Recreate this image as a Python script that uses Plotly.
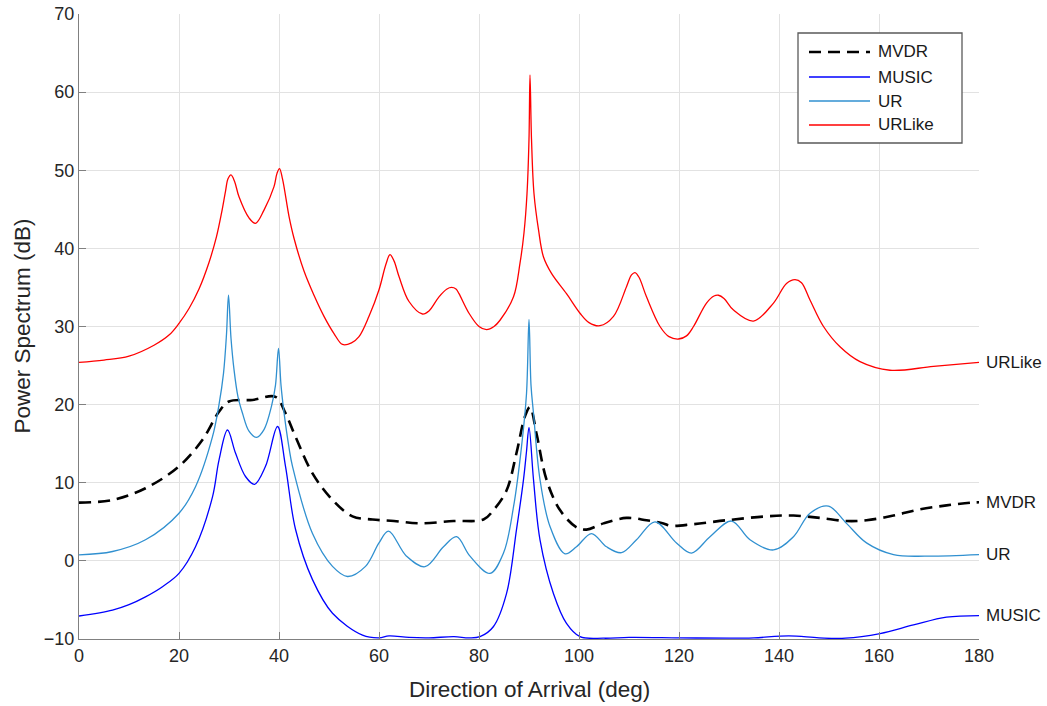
import plotly.graph_objects as go

# ---- spectra (direction in degrees, power in dB) ----
urlike_deg = [0, 5, 10, 15, 18, 20, 22, 24, 26, 27.5, 28.5, 29.3, 29.8, 30.4, 31.1, 32, 34, 35.3, 37,
              39, 39.6, 40.1, 40.7, 42, 43, 45, 47, 49, 51, 52.7, 54.5, 56, 58, 60, 61.4, 62.2, 63,
              64, 66, 68.7, 70, 72, 73.6, 74.5, 75.4, 76, 78, 80, 81.5, 83, 84.2, 86.9, 88.2, 89.0,
              89.6, 90.0, 90.2, 90.5, 91.0, 91.9, 92.9, 94.5, 97.5, 100.2, 102, 104.2, 106.9, 109.5,
              110.5, 111.2, 112, 113.5, 116.2, 118, 119.9, 121.5, 122.9, 125.5, 127, 127.9, 129,
              130.9, 134.9, 138.9, 141.5, 143.2, 144.5, 146.2, 148.9, 152.2, 156.2, 162.2, 170.9,
              180]
urlike_db = [25.4, 25.7, 26.2, 27.6, 28.9, 30.4, 32.3, 34.8, 38.2, 41.5, 44.5, 47.3, 48.9, 49.4, 48.6,
             46.6, 43.9, 43.2, 44.9, 47.9, 49.6, 50.2, 48.9, 44.1, 41.3, 37.1, 34.0, 31.3, 29.1,
             27.7, 27.9, 28.7, 31.3, 34.7, 38.0, 39.2, 38.4, 36.4, 33.2, 31.6, 32.0, 33.8, 34.8,
             35.0, 34.8, 34.2, 31.7, 30.0, 29.6, 30.0, 30.8, 33.8, 38.1, 42.0, 47.0, 54.0, 62.2, 54.0,
             47.0, 42.4, 38.9, 36.8, 34.2, 31.7, 30.5, 30.1, 31.3, 35.1, 36.6, 36.9, 36.3, 33.8,
             30.0, 28.7, 28.4, 28.8, 30.0, 33.0, 33.9, 34.0, 33.6, 32.1, 30.7, 33.0, 35.5, 36.0,
             35.6, 33.4, 30.0, 27.4, 25.5, 24.4, 24.9, 25.4]

mvdr_deg = [0, 6.7, 13.3, 20, 24.7, 28, 30, 34.7, 39.3, 41.3, 43.3, 46.7, 50.7, 54.7, 58.7, 63, 68.2,
            74.9, 80.9, 82.9, 85.5, 87.5, 89.2, 90.2, 91.5, 93.5, 96.2, 99.5, 101.5, 104.9, 109.5,
            113.5, 116.9, 118.2, 122.9, 129.5, 137.5, 142.9, 148.2, 153.5, 157.5, 162.9, 168.2,
            173.5, 178.2, 180]
mvdr_db = [7.45, 7.8, 9.3, 12.1, 15.5, 19.1, 20.4, 20.6, 21.0, 18.9, 15.9, 11.2, 7.8, 5.7, 5.3, 5.1,
           4.8, 5.1, 5.3, 6.5, 9.0, 13.8, 18.5, 19.7, 16.3, 10.4, 6.5, 4.3, 4.0, 4.8, 5.5, 5.2, 4.8,
           4.5, 4.7, 5.2, 5.7, 5.8, 5.5, 5.1, 5.2, 5.8, 6.6, 7.1, 7.45, 7.5]

ur_deg = [0, 6.7, 13.3, 20, 23.3, 26.7, 28.0, 28.9, 29.5, 29.9, 30.4, 31.0, 31.8, 32.7, 34, 35.5, 37,
          38.5, 39.3, 39.9, 40.4, 41.0, 42.0, 42.7, 46.7, 50.7, 53.7, 57.3, 60, 61.9, 65.5, 69.2,
          72.9, 75.5, 78.2, 82.2, 84.9, 86.9, 88.5, 89.5, 90.0, 90.4, 90.9, 92.2, 94.2, 97.2, 99.5,
          102.5, 105.5, 108.5, 111.5, 115.2, 119.5, 122.5, 126.2, 130.5, 134.2, 138.9, 142.9, 146.2,
          149.9, 153.5, 157.5, 162.9, 169.5, 180]
ur_db = [0.77, 1.2, 2.7, 6.1, 9.5, 15.9, 20.0, 24.0, 29.0, 34.0, 28.5, 24.5, 21.0, 18.9, 16.6, 15.8,
         16.8, 19.8, 22.5, 27.2, 22.5, 19.0, 14.5, 12.1, 3.5, -0.7, -2.0, -0.7, 2.3, 3.8, 0.6, -0.75,
         1.8, 3.1, 0.6, -1.6, 1.0, 6.9, 14.6, 21.4, 30.9, 22.5, 18.9, 10.4, 4.4, 0.9, 1.8, 3.5, 1.8,
         1.05, 2.7, 5.0, 2.3, 1.0, 3.1, 5.1, 2.7, 1.4, 3.1, 6.1, 7.0, 4.8, 2.3, 0.8, 0.6, 0.8]

music_deg = [0, 6.7, 10, 13.3, 16.7, 20, 23.3, 26.7, 28, 29.7, 31.3, 33.3, 35.1, 37.3, 39.7, 41.3,
             43.3, 46.7, 50.7, 56.7, 60, 62, 66, 70, 75, 78, 80.2, 82.9, 85.5, 87.5, 88.9, 89.5, 90.0,
             90.9, 92.2, 94.9, 97.5, 100.2, 105, 110, 120, 130, 135, 142, 148, 153.3, 160.2, 166.9,
             173.5, 180]
music_db = [-7.06, -6.3, -5.6, -4.6, -3.3, -1.6, 1.8, 8.2, 12.9, 16.75, 13.8, 10.8, 9.8, 12.1, 17.2,
            12.1, 4.05, -2.4, -6.7, -9.5, -9.85, -9.6, -9.8, -9.85, -9.7, -9.85, -9.7, -8.4, -4.2,
            4.0, 10.4, 14.0, 17.1, 10.4, 2.7, -4.2, -8.0, -9.7, -9.9, -9.8, -9.85, -9.9, -9.85, -9.6,
            -9.85, -9.9, -9.3, -8.2, -7.2, -7.0]

x_ticks = [0, 20, 40, 60, 80, 100, 120, 140, 160, 180]
y_ticks = [-10, 0, 10, 20, 30, 40, 50, 60, 70]

names = ["MVDR", "MUSIC", "UR", "URLike"]
colors = {"MVDR": "#000000", "MUSIC": "#0000ff", "UR": "#3090d0", "URLike": "#ff0000"}
series = {
    "MVDR": (mvdr_deg, mvdr_db),
    "MUSIC": (music_deg, music_db),
    "UR": (ur_deg, ur_db),
    "URLike": (urlike_deg, urlike_db),
}

FONT = "Liberation Sans, Arial, Helvetica, sans-serif"
W, H = 1047, 706
ML, MR, MT, MB = 79, 68, 14, 67
PW, PH = W - ML - MR, H - MT - MB


def px(xp):
    return (xp - ML) / PW


def py(yp):
    return (H - MB - yp) / PH


fig = go.Figure()
for name in names:
    xs, ys = series[name]
    dashed = name == "MVDR"
    fig.add_trace(go.Scatter(
        x=xs, y=ys, mode="lines", name=name, showlegend=False,
        line=dict(color=colors[name], width=2.6 if dashed else 1.3,
                  dash="12px,7px" if dashed else "solid",
                  shape="spline", smoothing=1.0),
    ))

# series labels at the right end of each curve
annotations = []
for name in names:
    xs, ys = series[name]
    annotations.append(dict(x=xs[-1], y=ys[-1], xref="x", yref="y", text=name,
                            showarrow=False, xanchor="left", yanchor="middle", xshift=5,
                            font=dict(family=FONT, size=17, color="#1a1a1a")))

# axis titles
annotations.append(dict(x=0.5, y=py(690), xref="paper", yref="paper",
                        text="Direction of Arrival (deg)", showarrow=False,
                        xanchor="center", yanchor="middle",
                        font=dict(family=FONT, size=22.5, color="#262626")))
annotations.append(dict(x=px(22), y=0.5, xref="paper", yref="paper",
                        text="Power Spectrum (dB)", showarrow=False, textangle=-90,
                        xanchor="center", yanchor="middle",
                        font=dict(family=FONT, size=22.5, color="#262626")))

# legend box
shapes = [dict(type="rect", xref="paper", yref="paper",
               x0=px(798), x1=px(962), y0=py(143), y1=py(33),
               line=dict(color="#5a5a5a", width=1.3), fillcolor="white", layer="above")]
legend_rows = [52, 77, 101, 125]
for name, yr in zip(names, legend_rows):
    dashed = name == "MVDR"
    shapes.append(dict(type="line", xref="paper", yref="paper",
                       x0=px(809), x1=px(870), y0=py(yr), y1=py(yr),
                       line=dict(color=colors[name], width=2.6 if dashed else 1.3,
                                 dash="12px,7px" if dashed else "solid"),
                       layer="above"))
    annotations.append(dict(x=px(876), y=py(yr), xref="paper", yref="paper", text=name,
                            showarrow=False, xanchor="left", yanchor="middle",
                            font=dict(family=FONT, size=17, color="#1a1a1a")))

axis_common = dict(
    showline=True, linecolor="#808080", linewidth=1.3,
    ticks="inside", ticklen=7, tickcolor="#808080", tickwidth=1.2,
    showgrid=True, gridcolor="#e2e2e2", gridwidth=1,
    zeroline=False, mirror=False, automargin=False,
    tickfont=dict(family=FONT, size=18, color="#262626"),
)

fig.update_layout(
    template="none",
    width=W, height=H,
    margin=dict(l=ML, r=MR, t=MT, b=MB, pad=0),
    paper_bgcolor="white", plot_bgcolor="white",
    showlegend=False,
    xaxis=dict(range=[0, 180], tickvals=x_ticks, **axis_common),
    yaxis=dict(range=[-10, 70], tickvals=y_ticks, **axis_common),
    annotations=annotations,
    shapes=shapes,
)

fig.write_html("out.html")
